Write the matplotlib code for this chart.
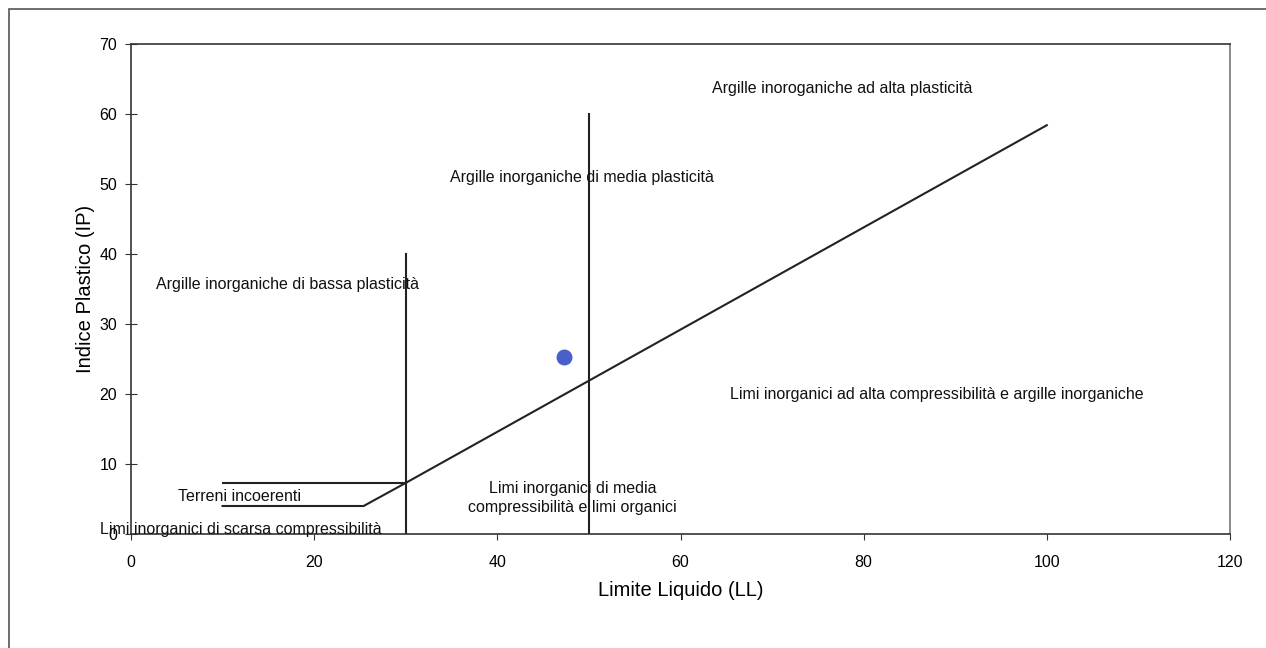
import matplotlib
matplotlib.use('Agg')
import matplotlib.pyplot as plt
from matplotlib.patches import Rectangle

plt.rcParams['font.family'] = ['Liberation Sans', 'DejaVu Sans']

# Casagrande plasticity chart
a_line_ll = [30, 100]
a_line_ip = [7.3, 58.4]
low_ll = [10, 25.4, 30]
low_ip = [4, 4, 7.3]
upper_ll = [10, 30]
upper_ip = [7.3, 7.3]
div_ll = [30, 50]
div_top = [40, 60]

sample_ll = [47.3]
sample_ip = [25.3]

zone_labels = [
    ('Argille inoroganiche ad alta plasticità', 77.7, 63.7),
    ('Argille inorganiche di media plasticità', 49.2, 50.9),
    ('Argille inorganiche di bassa plasticità', 17.1, 35.7),
    ('Limi inorganici ad alta compressibilità e argille inorganiche', 88.0, 19.9),
    ('Limi inorganici di media\ncompressibilità e limi organici', 48.2, 5.1),
    ('Terreni incoerenti', 11.8, 5.3),
    ('Limi inorganici di scarsa compressibilità', 12.0, 0.7),
]

fig = plt.figure(figsize=(12.66, 6.48), dpi=100)
ax = fig.add_axes([131 / 1266, 1 - 534 / 648, (1230 - 131) / 1266, (534 - 44) / 648])

# chart area border
fig.patches.append(Rectangle((9 / 1266, -0.1), 1.2, 1 - 9 / 648 + 0.1,
                             transform=fig.transFigure, fill=False,
                             edgecolor='#555555', linewidth=1.2))

lc = '#222222'
ax.plot(a_line_ll, a_line_ip, color=lc, lw=1.5)
ax.plot(low_ll, low_ip, color=lc, lw=1.5)
ax.plot(upper_ll, upper_ip, color=lc, lw=1.5)
for x, top in zip(div_ll, div_top):
    ax.plot([x, x], [0, top], color=lc, lw=1.5)

ax.scatter(sample_ll, sample_ip, s=110, color='#4a5fc9', zorder=5)

for txt, x, y in zone_labels:
    ax.text(x, y, txt, ha='center', va='center', fontsize=11.5, color='#111111',
            linespacing=1.3)

ax.set_xlim(0, 120)
ax.set_ylim(0, 70)
ax.set_xticks(range(0, 121, 20))
ax.set_yticks(range(0, 71, 10))
ax.tick_params(axis='x', direction='out', length=4, labelsize=11.5, pad=11, color='#333333')
ax.tick_params(axis='y', direction='inout', length=8, labelsize=11.5, pad=6, color='#333333')
for s in ['left', 'bottom', 'top']:
    ax.spines[s].set_color('#333333')
ax.spines['right'].set_color('#777777')
for s in ax.spines.values():
    s.set_linewidth(1.2)

ax.set_xlabel('Limite Liquido (LL)', fontsize=14.5, labelpad=8)
ax.set_ylabel('Indice Plastico (IP)', fontsize=14.5, labelpad=3)

fig.savefig('out.png', dpi=100)
